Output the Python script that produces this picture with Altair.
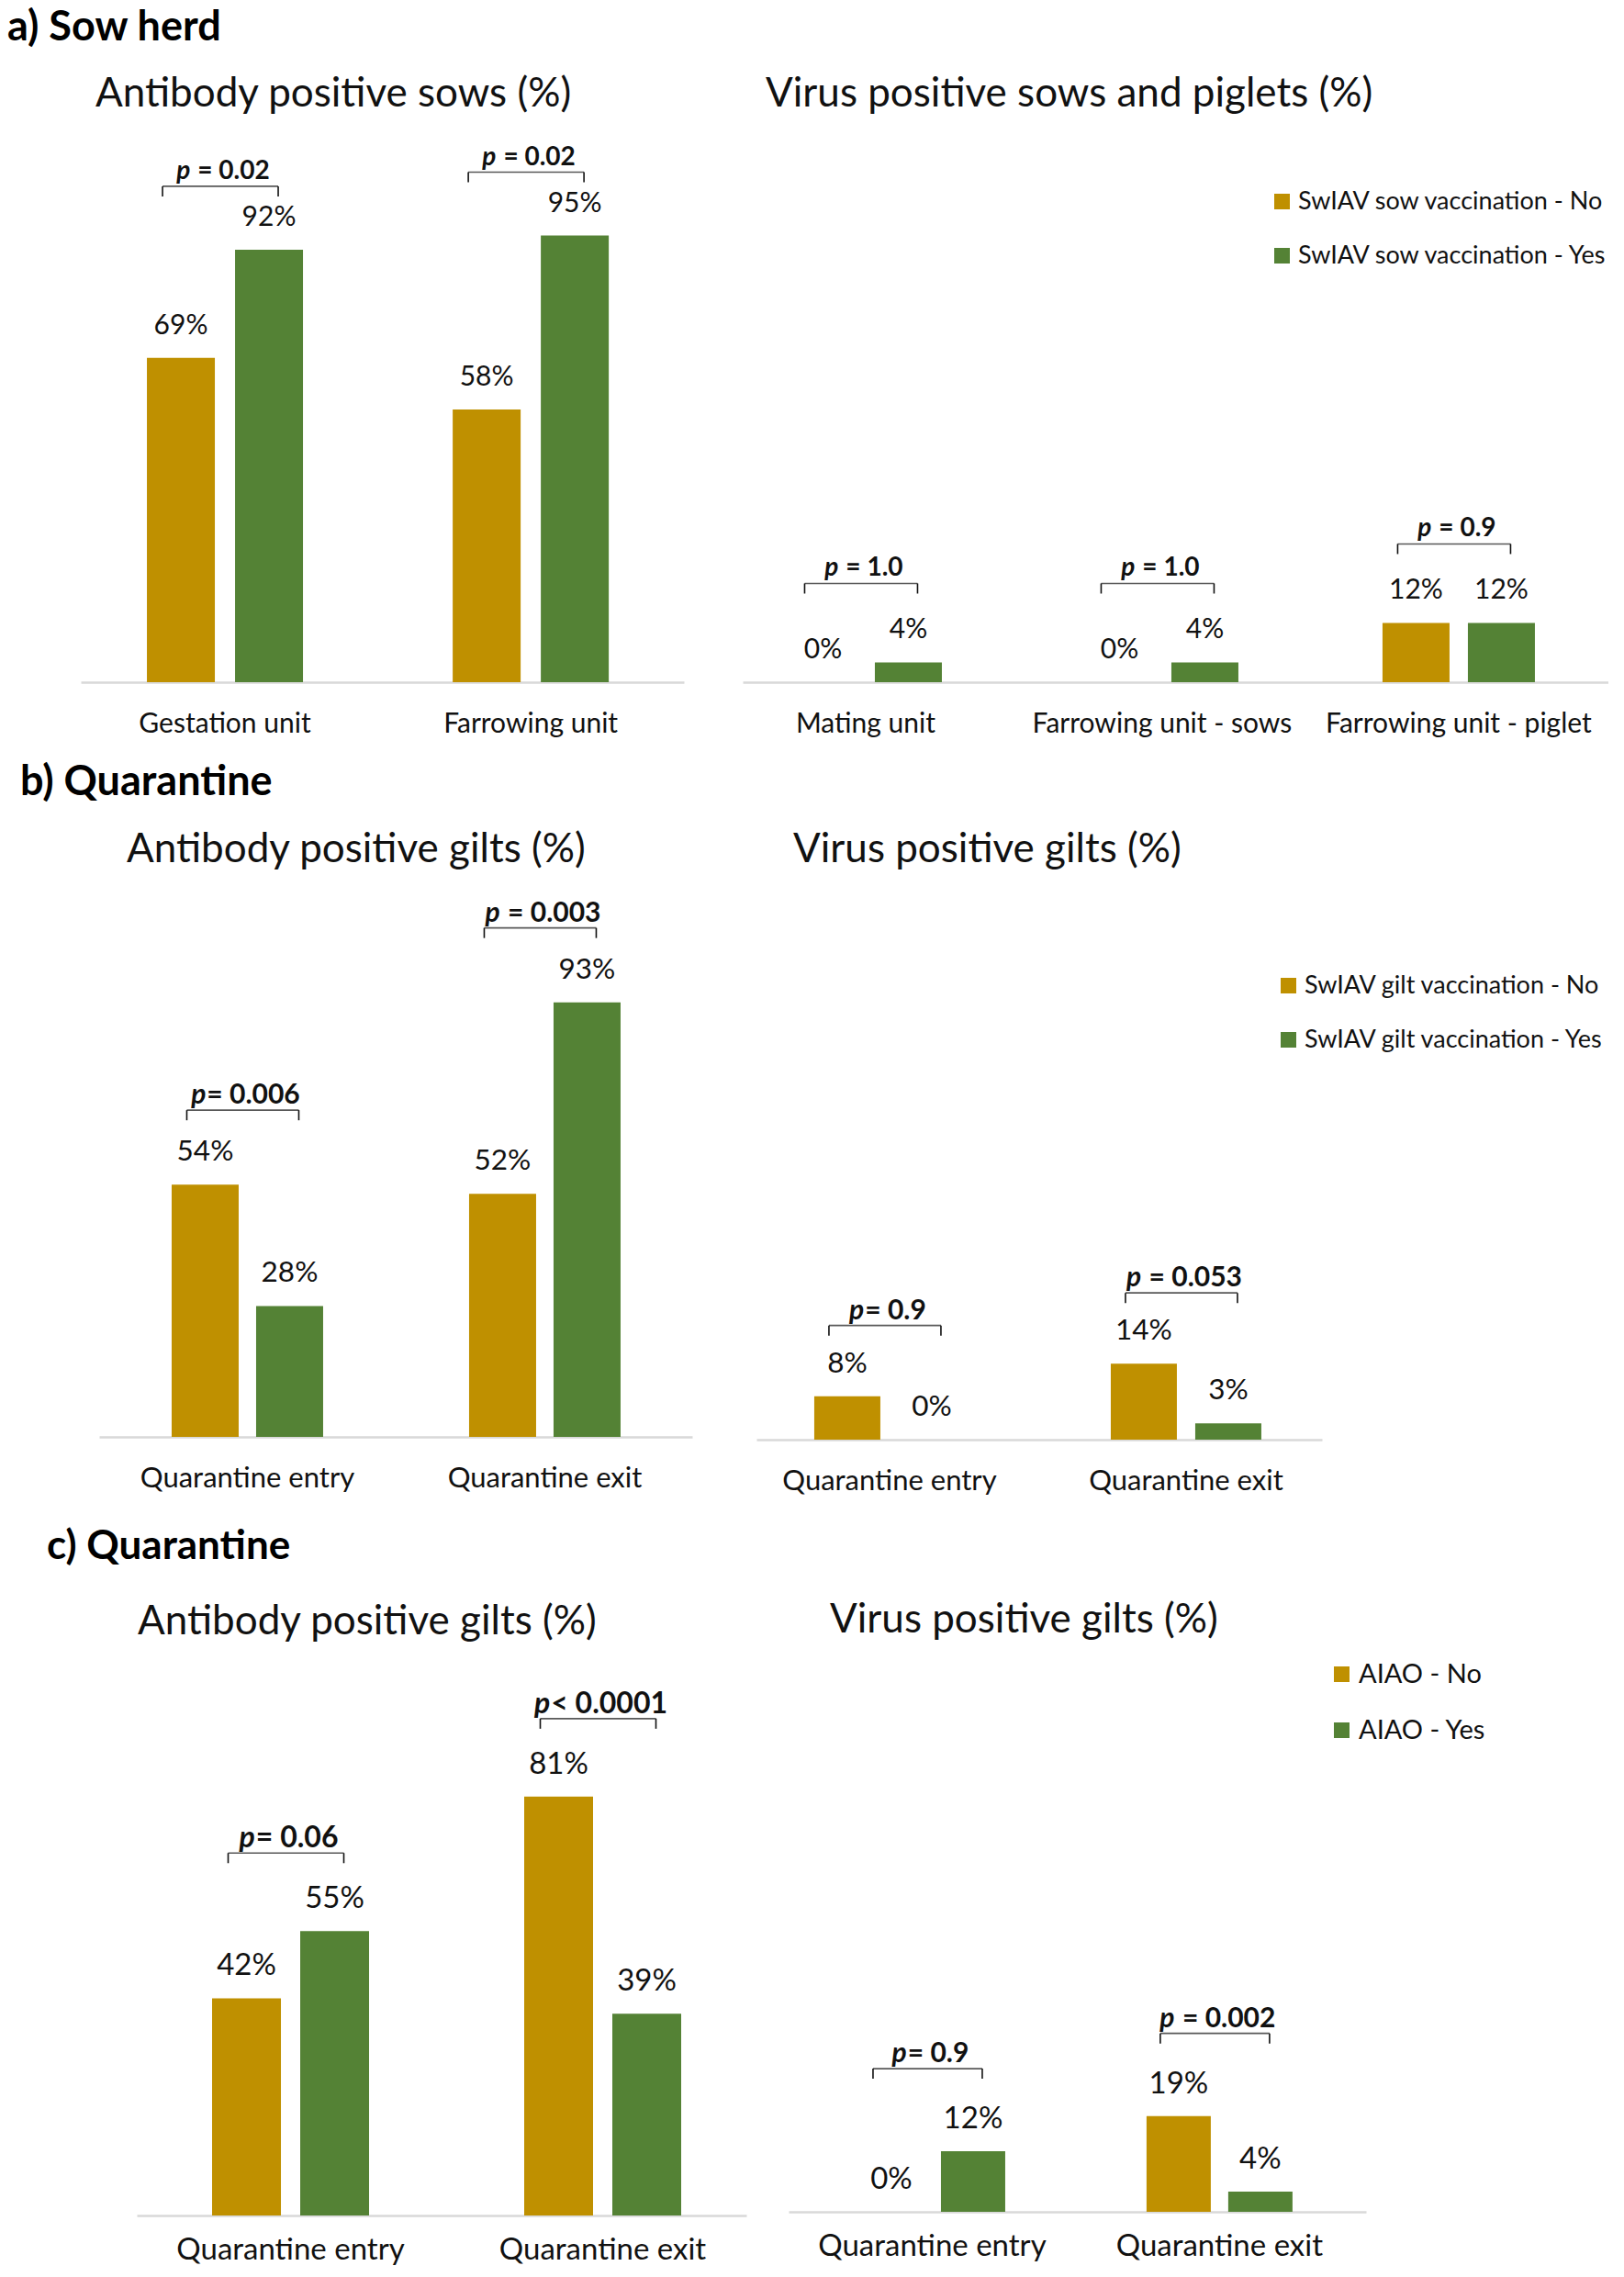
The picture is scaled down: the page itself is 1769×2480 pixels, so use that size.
import altair as alt
import pandas as pd

FONT = "Lato"
YELLOW = "#BF9000"
GREEN = "#548235"
AXIS_GREY = "#D9D9D9"
INK = "#111111"

# ---------------- a) Sow herd ----------------
a_ab_title = "Antibody positive sows (%)"
a_ab_cats = ["Gestation unit", "Farrowing unit"]
a_ab_no = [69, 58]
a_ab_yes = [92, 95]
a_ab_p = ["p = 0.02", "p = 0.02"]

a_vi_title = "Virus positive sows and piglets (%)"
a_vi_cats = ["Mating unit", "Farrowing unit - sows", "Farrowing unit - piglet"]
a_vi_no = [0, 0, 12]
a_vi_yes = [4, 4, 12]
a_vi_p = ["p = 1.0", "p = 1.0", "p = 0.9"]
a_series = ["SwIAV sow vaccination - No", "SwIAV sow vaccination - Yes"]

# ---------------- b) Quarantine ----------------
b_ab_title = "Antibody positive gilts (%)"
b_vi_title = "Virus positive gilts (%)"
b_cats = ["Quarantine entry", "Quarantine exit"]
b_ab_no = [54, 52]
b_ab_yes = [28, 93]
b_ab_p = ["p= 0.006", "p = 0.003"]
b_vi_no = [8, 14]
b_vi_yes = [0, 3]
b_vi_p = ["p= 0.9", "p = 0.053"]
b_series = ["SwIAV gilt vaccination - No", "SwIAV gilt vaccination - Yes"]

# ---------------- c) Quarantine ----------------
c_ab_title = "Antibody positive gilts (%)"
c_vi_title = "Virus positive gilts (%)"
c_cats = ["Quarantine entry", "Quarantine exit"]
c_ab_no = [42, 81]
c_ab_yes = [55, 39]
c_ab_p = ["p= 0.06", "p< 0.0001"]
c_vi_no = [0, 19]
c_vi_yes = [12, 4]
c_vi_p = ["p= 0.9", "p = 0.002"]
c_series = ["AIAO - No", "AIAO - Yes"]

CHAR_EM = {"p": 0.57, " ": 0.25, "=": 0.58, "<": 0.58, ".": 0.23}


def text_w(s, size):
    return sum(CHAR_EM.get(ch, 0.58) for ch in s) * size


def make_df(cats, no, yes, pvals, series):
    rows = []
    for c, n, y, p in zip(cats, no, yes, pvals):
        for s, v in zip(series, (n, y)):
            rows.append({"cat": c, "grp": s, "value": v, "label": f"{v}%",
                         "p1": p[0], "p2": p[1:].lstrip()})
    return pd.DataFrame(rows)


def panel(title, cats, no, yes, pvals, series, *, width, height, ymax,
          pi, po, align, bar_w, gap, bracket_px, title_dx, title_offset,
          legend=None, label_pad=30, label_size=30, value_size=30, p_size=28):
    df = make_df(cats, no, yes, pvals, series)
    d = (bar_w + gap) / 2.0
    base = alt.Chart(df)
    x = alt.X("cat:N", sort=cats, title=None,
              scale=alt.Scale(type="band", domain=cats, paddingInner=pi,
                              paddingOuter=po, align=align),
              axis=alt.Axis(labelAngle=0, labelFont=FONT, labelFontSize=label_size,
                            labelColor=INK, labelPadding=label_pad, ticks=False,
                            domainColor=AXIS_GREY, domainWidth=2.5, grid=False,
                            labelLimit=0, title=None))
    yscale = alt.Scale(domain=[0, ymax], nice=False, zero=True)
    y = alt.Y("value:Q", scale=yscale, axis=None, title=None)
    color = alt.Color("grp:N", sort=series,
                      scale=alt.Scale(domain=series, range=[YELLOW, GREEN]), legend=legend)

    layers = []
    for s, off in zip(series, (-d, d)):
        sub = base.transform_filter(alt.datum.grp == s)
        layers.append(sub.mark_bar(width=bar_w, xOffset=off).encode(x=x, y=y, color=color))
        layers.append(sub.mark_text(dy=-35, xOffset=off, baseline="middle", font=FONT,
                                    fontSize=value_size, color=INK)
                      .encode(x=x, y=y, text="label:N"))

    gm = base.transform_joinaggregate(gmax="max(value)", groupby=["cat"]).transform_filter(
        alt.datum.grp == series[0])
    ygm = alt.Y("gmax:Q", scale=yscale, axis=None, title=None)
    left_end, right_end = -d - 20, d + 10
    layers.append(gm.mark_tick(color=INK, thickness=1.6, size=right_end - left_end,
                               xOffset=(left_end + right_end) / 2, yOffset=-bracket_px)
                  .encode(x=x, y=ygm))
    for end in (left_end, right_end):
        layers.append(gm.mark_rule(color=INK, strokeWidth=1.6, xOffset=end,
                                   yOffset=-bracket_px, y2Offset=-bracket_px + 11)
                      .encode(x=x, y=ygm, y2="gmax:Q"))
    for c, p in zip(cats, pvals):
        rest = p[1:]
        wp, wr = text_w(p[0], p_size), text_w(rest, p_size)
        split = -3 - (wp + wr) / 2 + wp
        lead = text_w(rest[: len(rest) - len(rest.lstrip())], p_size)
        pc = gm.transform_filter(alt.datum.cat == c)
        layers.append(pc.mark_text(align="right", baseline="middle", dx=split,
                                   dy=-(bracket_px + 16), font=FONT, fontSize=p_size,
                                   fontWeight="bold", fontStyle="italic", color=INK)
                      .encode(x=x, y=ygm, text="p1:N"))
        layers.append(pc.mark_text(align="left", baseline="middle", dx=split + 1 + lead,
                                   dy=-(bracket_px + 16), font=FONT, fontSize=p_size,
                                   fontWeight="bold", color=INK)
                      .encode(x=x, y=ygm, text="p2:N"))

    return alt.layer(*layers).properties(
        width=width, height=height,
        title=alt.TitleParams(text=title, anchor="start", frame="group", dx=title_dx,
                              offset=title_offset, fontSize=44, font=FONT,
                              fontWeight="normal", color=INK))


def legend_at(lx, ly, size):
    return alt.Legend(orient="none", legendX=lx, legendY=ly, title=None,
                      symbolType="square", symbolSize=289, symbolStrokeWidth=0,
                      labelFont=FONT, labelFontSize=size, labelColor=INK,
                      rowPadding=31, labelOffset=4, labelLimit=0, direction="vertical")


def header(text, dx, offset, size):
    return alt.TitleParams(text=text, anchor="start", dx=dx, offset=offset, fontSize=size,
                           font=FONT, fontWeight="bold", color="black")


def spacer(w):
    return alt.Chart(alt.Data(values=[])).mark_point(opacity=0).properties(width=w, height=1)


a_left = panel(a_ab_title, a_ab_cats, a_ab_no, a_ab_yes, a_ab_p, a_series,
               width=657, height=594, ymax=116.0, pi=0.4895, po=0.231, align=0.468,
               bar_w=74, gap=22, bracket_px=69, title_dx=16, title_offset=24)
a_right = panel(a_vi_title, a_vi_cats, a_vi_no, a_vi_yes, a_vi_p, a_series,
                width=943, height=594, ymax=110.4, pi=0.486, po=0.2028, align=0.389,
                bar_w=73, gap=20, bracket_px=86, title_dx=25, title_offset=24,
                legend=legend_at(574, 57, 27))
row_a = alt.hconcat(spacer(16), a_left, a_right, spacing=64,
                    title=header("a) Sow herd", 0, 28, 45)).resolve_scale(
    color="independent").resolve_legend(color="independent")

b_left = panel(b_ab_title, b_cats, b_ab_no, b_ab_yes, b_ab_p, b_series,
               width=646, height=596, ymax=117.1, pi=0.4907, po=0.2423, align=0.503,
               bar_w=73, gap=19, bracket_px=81, title_dx=30, title_offset=21,
               label_size=31, value_size=31.5, p_size=30)
b_right = panel(b_vi_title, b_cats, b_vi_no, b_vi_yes, b_vi_p, b_series,
                width=616, height=599, ymax=101.2, pi=0.4923, po=0.1997, align=0.488,
                bar_w=72, gap=20, bracket_px=77, title_dx=40, title_offset=21,
                legend=legend_at(566, 91, 27), label_size=31, value_size=31.5, p_size=30)
row_b = alt.hconcat(spacer(30), b_left, b_right, spacing=70,
                    title=header("b) Quarantine", 14, 29, 45)).resolve_scale(
    color="independent").resolve_legend(color="independent")

c_left = panel(c_ab_title, c_cats, c_ab_no, c_ab_yes, c_ab_p, c_series,
               width=664, height=602, ymax=106.9, pi=0.497, po=0.225, align=0.536,
               bar_w=75, gap=21, bracket_px=85, title_dx=1, title_offset=22,
               label_pad=21, label_size=33, value_size=33, p_size=32)
c_right = panel(c_vi_title, c_cats, c_vi_no, c_vi_yes, c_vi_p, c_series,
                width=629, height=598, ymax=108.9, pi=0.492, po=0.251, align=0.49,
                bar_w=70, gap=19, bracket_px=90, title_dx=45, title_offset=22,
                legend=legend_at(588, -2, 29), label_pad=21, label_size=33,
                value_size=33, p_size=30)
row_c = alt.hconcat(spacer(95), c_left, c_right, spacing=46,
                    title=header("c) Quarantine", 43, 36, 44)).resolve_scale(
    color="independent").resolve_legend(color="independent")

lower = alt.vconcat(row_b, row_c, spacing=35).resolve_scale(
    color="independent").resolve_legend(color="independent")

chart = alt.vconcat(row_a, lower, spacing=27).resolve_scale(
    color="independent").resolve_legend(color="independent").properties(
    padding=0).configure_view(stroke=None)

chart.save("out.html", embed_options={"renderer": "svg", "actions": False})
